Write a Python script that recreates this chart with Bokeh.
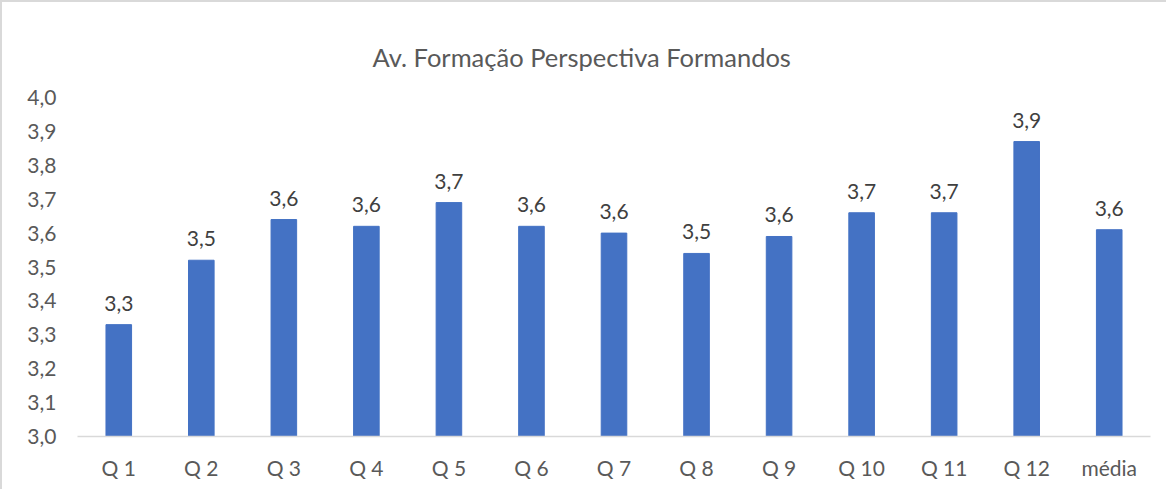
from bokeh.plotting import figure
from bokeh.models import ColumnDataSource, FactorRange, Range1d, FixedTicker, CustomJSTickFormatter, Title
from bokeh.core.properties import value
from bokeh.embed import file_html
from bokeh.resources import INLINE

categories = ["Q 1", "Q 2", "Q 3", "Q 4", "Q 5", "Q 6", "Q 7", "Q 8", "Q 9", "Q 10", "Q 11", "Q 12", "média"]
scores = [3.33, 3.52, 3.64, 3.62, 3.69, 3.62, 3.60, 3.54, 3.59, 3.66, 3.66, 3.87, 3.61]
y_ticks = [3.0, 3.1, 3.2, 3.3, 3.4, 3.5, 3.6, 3.7, 3.8, 3.9, 4.0]
title_text = "Av. Formação Perspectiva Formandos"

FONT = "Lato"
TXT = "#595959"

labels = [f"{v:.1f}".replace(".", ",") for v in scores]
src = ColumnDataSource(dict(cat=categories, val=scores, lab=labels))

p = figure(
    x_range=FactorRange(*categories),
    y_range=Range1d(3.0, 4.0),
    width=1166, height=489,
    output_backend="svg", toolbar_location=None,
    title=title_text,
    min_border_left=75, min_border_right=18, min_border_top=95, min_border_bottom=55,
)
p.styles = {"border-top": "2px solid #D9D9D9", "border-left": "2px solid #D9D9D9"}

p.title.text_font = FONT
p.title.text_font_size = "25.5px"
p.title.text_font_style = "normal"
p.title.text_color = TXT
p.title.align = "left"
p.title.offset = 295
p.title.standoff = 52

# invisible spacer between the frame and the title, to lift the title
spacer = Title(text=" ", text_font_size="1px", text_color=None, standoff=11)
p.add_layout(spacer, "above")

p.vbar(x="cat", top="val", bottom=3.0, width=0.31, source=src,
       fill_color="#4472C4", line_color="#4472C4")

p.text(x="cat", y="val", text="lab", source=src, text_align="center",
       text_baseline="bottom", y_offset=-14, text_font=value(FONT),
       text_font_size="21px", text_color="#404040")

p.xgrid.visible = False
p.ygrid.visible = False
p.outline_line_color = None

p.yaxis.ticker = FixedTicker(ticks=y_ticks)
p.yaxis.formatter = CustomJSTickFormatter(code="return tick.toFixed(1).replace('.', ',');")
p.yaxis.axis_line_color = None
p.yaxis.major_tick_line_color = None
p.yaxis.minor_tick_line_color = None
p.yaxis.major_label_standoff = 15

p.xaxis.axis_line_color = "#D9D9D9"
p.xaxis.axis_line_width = 1.5
p.xaxis.major_tick_line_color = None
p.xaxis.minor_tick_line_color = None
p.xaxis.major_label_standoff = 12

for ax in (p.xaxis, p.yaxis):
    ax.major_label_text_font = FONT
    ax.major_label_text_font_size = "21px"
    ax.major_label_text_color = TXT

open("out.html", "w").write(file_html(p, INLINE))
